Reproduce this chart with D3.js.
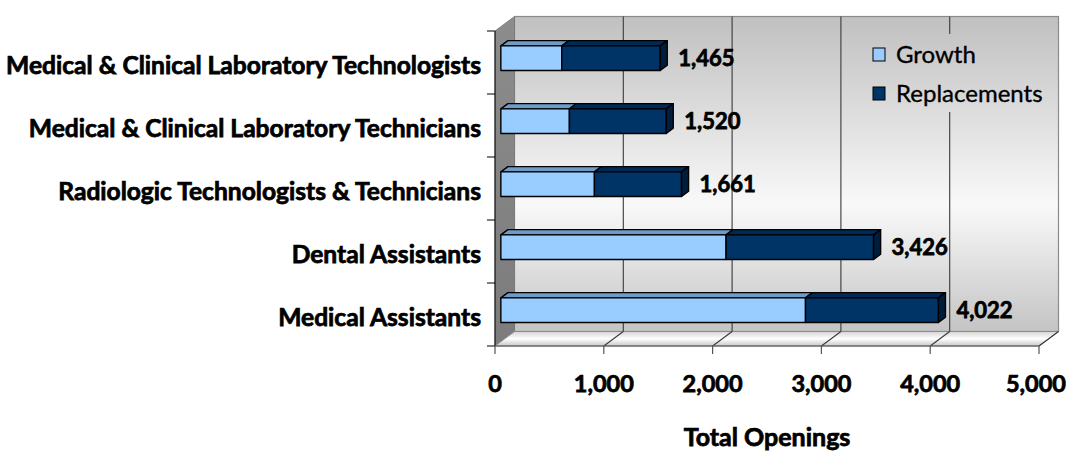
<!DOCTYPE html>
<html>
<head>
<meta charset="utf-8">
<script src="https://cdn.jsdelivr.net/npm/d3@7"></script>
<style>
  body { margin: 0; background: #fff; }
  svg { display: block; font-family: Lato, "Liberation Sans", sans-serif; }
  .bold { font-weight: bold; stroke: #000; stroke-width: 0.75px; }
</style>
</head>
<body>
<svg width="1068" height="452"></svg>
<script>
// data
const categories = [
    "Medical & Clinical Laboratory Technologists",
    "Medical & Clinical Laboratory Technicians",
    "Radiologic Technologists & Technicians",
    "Dental Assistants",
    "Medical Assistants"
];
const growth = [560, 630, 860, 2070, 2800];
const replacements = [905, 890, 801, 1356, 1222];
const totals = [1465, 1520, 1661, 3426, 4022];
const xTicks = [0, 1000, 2000, 3000, 4000, 5000];
const seriesNames = ["Growth", "Replacements"];

var svg = d3.select("svg");

// front plane of the 3d box
var x = d3.scaleLinear().domain([0, 5000]).range([495, 1039]);
var y = d3.scaleBand().domain(categories).range([31, 346])
    .paddingInner(0.61).paddingOuter(0.305);
var step = y.step();

// depth offsets (back wall = depth 1)
const DX = 19.5, DY = -14.5;
const d0 = 0.3, d1 = 0.66;   // bar front / back depth

var yTop = 31, yBot = 346;

var defs = svg.append("defs");
var wallGrad = defs.append("linearGradient")
    .attr("id", "wall").attr("gradientUnits", "userSpaceOnUse")
    .attr("x1", 0).attr("y1", yTop + DY).attr("x2", 0).attr("y2", yBot + DY);
wallGrad.append("stop").attr("offset", "0").attr("stop-color", "#c0c0c0");
wallGrad.append("stop").attr("offset", "0.6").attr("stop-color", "#f9f9f9");
wallGrad.append("stop").attr("offset", "1").attr("stop-color", "#c4c4c4");

var floorGrad = defs.append("linearGradient")
    .attr("id", "floor").attr("gradientUnits", "userSpaceOnUse")
    .attr("x1", 0).attr("y1", yBot + DY).attr("x2", 0).attr("y2", yBot);
floorGrad.append("stop").attr("offset", "0").attr("stop-color", "#d4d4d4");
floorGrad.append("stop").attr("offset", "0.5").attr("stop-color", "#ffffff");
floorGrad.append("stop").attr("offset", "1").attr("stop-color", "#c8c8c8");

var sideGrad = defs.append("linearGradient")
    .attr("id", "side").attr("x1", 0).attr("y1", 0).attr("x2", 0).attr("y2", 1);
sideGrad.append("stop").attr("offset", "0").attr("stop-color", "#8c8c8c");
sideGrad.append("stop").attr("offset", "1").attr("stop-color", "#7c7c7c");

function pt(v, yy, d) { return [x(v) + DX * d, yy + DY * d]; }
var line = d3.line();

// back wall
svg.append("rect")
    .attr("x", x(0) + DX).attr("y", yTop + DY)
    .attr("width", x(5000) - x(0)).attr("height", yBot - yTop)
    .attr("fill", "url(#wall)").attr("stroke", "#8a8a8a").attr("stroke-width", 1.2);

// side wall
svg.append("path")
    .attr("d", line([pt(0, yTop, 0), pt(0, yTop, 1), pt(0, yBot, 1), pt(0, yBot, 0)]) + "Z")
    .attr("fill", "url(#side)").attr("stroke", "#777").attr("stroke-width", 0.8);

// floor
svg.append("path")
    .attr("d", line([pt(0, yBot, 0), pt(5000, yBot, 0), pt(5000, yBot, 1), pt(0, yBot, 1)]) + "Z")
    .attr("fill", "url(#floor)").attr("stroke", "#8a8a8a").attr("stroke-width", 1);

// gridlines on wall and floor
var grid = svg.append("g").attr("stroke", "#3a3a3a").attr("stroke-width", 1.1);
xTicks.filter(function(v) { return v > 0 && v < 5000; }).forEach(function(v) {
    grid.append("line")
        .attr("x1", x(v) + DX).attr("x2", x(v) + DX)
        .attr("y1", yTop + DY).attr("y2", yBot + DY);
});
xTicks.filter(function(v) { return v > 0; }).forEach(function(v) {
    grid.append("path").attr("fill", "none")
        .attr("d", line([pt(v, yBot, 0), pt(v, yBot, 1)]));
});

// legend (its box hides the gridline behind it)
var legend = svg.append("g");
legend.append("rect")
    .attr("x", 866).attr("y", 34).attr("width", 182).attr("height", 78)
    .attr("fill", "url(#wall)");
var legendColors = ["#99ccff", "#003366"];
seriesNames.forEach(function(name, i) {
    var ly = 48 + i * 39;
    legend.append("rect")
        .attr("x", 873).attr("y", ly).attr("width", 12).attr("height", 13)
        .attr("fill", legendColors[i]).attr("stroke", "#000").attr("stroke-width", 1);
    legend.append("text")
        .attr("x", 896).attr("y", ly + 14.5)
        .attr("font-size", 24).attr("fill", "#000")
        .attr("stroke", "#000").attr("stroke-width", 0.35)
        .text(name);
});

// bars
var faceColors = {
    growth: { front: "#99ccff", top: "#6f9bc8", side: "#5a85b0" },
    repl:   { front: "#003366", top: "#002a55", side: "#001d3d" }
};
var bars = svg.append("g").attr("stroke", "#000").attr("stroke-width", 1.4)
    .attr("stroke-linejoin", "round");

categories.forEach(function(cat, i) {
    var by = y(cat), bh = y.bandwidth();
    var segs = [
        { v0: 0, v1: growth[i], c: faceColors.growth },
        { v0: growth[i], v1: growth[i] + replacements[i], c: faceColors.repl }
    ];
    segs.forEach(function(s, k) {
        // top face
        bars.append("path")
            .attr("fill", s.c.top)
            .attr("d", line([pt(s.v0, by, d0), pt(s.v1, by, d0), pt(s.v1, by, d1), pt(s.v0, by, d1)]) + "Z");
        // front face
        var p = pt(s.v0, by, d0), q = pt(s.v1, by, d0);
        bars.append("rect")
            .attr("x", p[0]).attr("y", p[1])
            .attr("width", q[0] - p[0]).attr("height", bh)
            .attr("fill", s.c.front);
        // end face on the outer segment only
        if (k === segs.length - 1) {
            bars.append("path")
                .attr("fill", s.c.side)
                .attr("d", line([pt(s.v1, by, d0), pt(s.v1, by, d1), pt(s.v1, by + bh, d1), pt(s.v1, by + bh, d0)]) + "Z");
        }
    });
    // total label
    svg.append("text").attr("class", "bold")
        .attr("x", x(totals[i]) + DX * d0 + 18)
        .attr("y", by + bh / 2 + DY * d0 + 8)
        .attr("font-size", 22)
        .text(d3.format(",")(totals[i]));
});

// category axis
var yAxis = svg.append("g");
yAxis.append("line")
    .attr("x1", x(0)).attr("x2", x(0)).attr("y1", yTop).attr("y2", yBot)
    .attr("stroke", "#000").attr("stroke-width", 1);
d3.range(categories.length + 1).forEach(function(j) {
    yAxis.append("line")
        .attr("x1", x(0) - 8).attr("x2", x(0))
        .attr("y1", yTop + j * step).attr("y2", yTop + j * step)
        .attr("stroke", "#000").attr("stroke-width", 1);
});
categories.forEach(function(cat) {
    yAxis.append("text").attr("class", "bold")
        .attr("x", 481).attr("y", y(cat) + y.bandwidth() / 2 + 11)
        .attr("text-anchor", "end")
        .attr("font-size", 24.6)
        .text(cat);
});

// value axis
var xAxis = svg.append("g");
xAxis.append("line")
    .attr("x1", x(0)).attr("x2", x(5000)).attr("y1", yBot).attr("y2", yBot)
    .attr("stroke", "#555").attr("stroke-width", 1.2);
xTicks.forEach(function(v, j) {
    xAxis.append("line")
        .attr("x1", x(v)).attr("x2", x(v)).attr("y1", yBot).attr("y2", yBot + 8)
        .attr("stroke", "#555").attr("stroke-width", 1.2);
    var last = j === xTicks.length - 1;
    xAxis.append("text").attr("class", "bold")
        .attr("x", last ? 1066 : x(v)).attr("y", 392)
        .attr("text-anchor", last ? "end" : "middle")
        .attr("font-size", 23.5)
        .text(d3.format(",")(v));
});

svg.append("text").attr("class", "bold")
    .attr("x", 767).attr("y", 446)
    .attr("text-anchor", "middle")
    .attr("font-size", 25)
    .text("Total Openings");
</script>
</body>
</html>
